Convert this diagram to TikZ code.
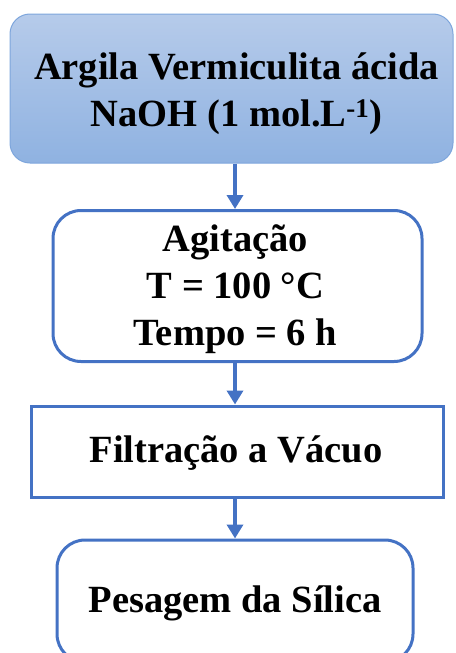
\documentclass[tikz,border=0pt]{standalone}
\usepackage{fontspec}
\setmainfont{Liberation Serif}
\usetikzlibrary{arrows.meta}
\definecolor{blueline}{HTML}{4472C4}
\definecolor{topedge}{HTML}{7EA6DC}
\definecolor{toptop}{RGB}{182,203,234}
\definecolor{topbot}{RGB}{143,178,225}
\tikzset{
  x=1pt, y=-1pt,
  boxtxt/.style={align=center, font=\fontsize{38.5}{47}\selectfont\bfseries, inner sep=0pt},
  topbox/.style={draw=topedge, line width=1pt, rounded corners=20pt, top color=toptop, bottom color=topbot},
  roundbox/.style={draw=blueline, line width=3pt, rounded corners=28pt, fill=white},
  rectbox/.style={draw=blueline, line width=3pt, fill=white},
  arr/.style={draw=blueline, line width=3.5pt, -{Triangle[length=14pt,width=16pt]}}
}
\begin{document}
\begin{tikzpicture}
\useasboundingbox (0,0) rectangle (455,653);
\clip (0,0) rectangle (455,653);
\node[topbox, minimum width=443pt, minimum height=149pt] (top) at (231.5,88.5) {};
\node[roundbox, minimum width=369pt, minimum height=151pt] (agit) at (237.5,286) {};
\node[rectbox, minimum width=412pt, minimum height=91pt] (filt) at (237,451.5) {};
\node[roundbox, minimum width=356pt, minimum height=122pt] (pes) at (235,601) {};
\node[boxtxt] (topT) at ([xshift=5pt,yshift=-5pt]top.center) {Argila Vermiculita ácida\\NaOH (1 mol.L\textsuperscript{-1})};
\node[boxtxt] (agitT) at ([xshift=-2pt,yshift=-3pt]agit.center) {Agitação\\T = 100 °C\\Tempo = 6 h};
\node[boxtxt] (filtT) at ([xshift=-1pt,yshift=-2pt]filt.center) {Filtração a Vácuo};
\node[boxtxt] (pesT) at ([yshift=-2pt]pes.center) {Pesagem da Sílica};
\coordinate (ax) at (235,0);
\draw[arr] (top.south -| ax) -- (agit.north -| ax);
\draw[arr] (agit.south -| ax) -- (filt.north -| ax);
\draw[arr] (filt.south -| ax) -- (pes.north -| ax);
\end{tikzpicture}
\end{document}
